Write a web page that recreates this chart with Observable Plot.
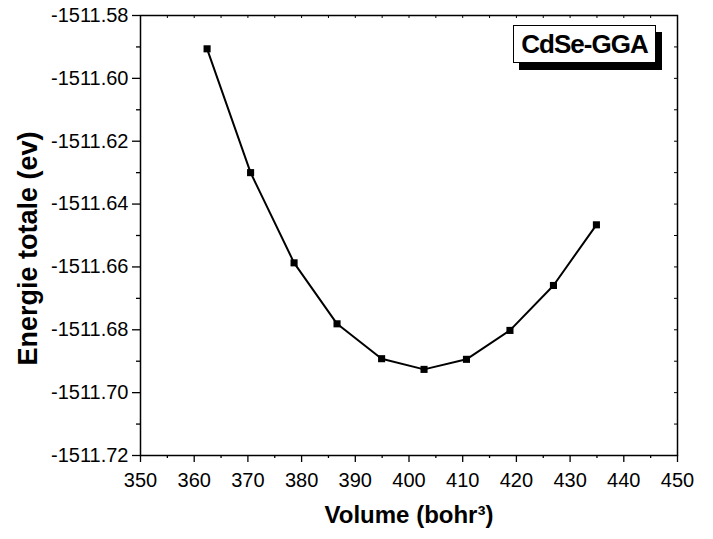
<!DOCTYPE html>
<html>
<head>
<meta charset="utf-8">
<script src="https://cdn.jsdelivr.net/npm/d3@7"></script>
<script src="https://cdn.jsdelivr.net/npm/@observablehq/plot@0.6"></script>
<style>
  body { margin: 0; background: #fff; }
  #wrap { position: relative; width: 713px; height: 539px; }
  #legend {
    position: absolute; left: 513px; top: 25px; width: 141px; height: 36px;
    border: 1px solid #000; background: #fff; box-shadow: 6px 7px 0 #000;
    font-family: "Liberation Sans", Arial, sans-serif; font-weight: bold;
    font-size: 26px; line-height: 37px; text-align: center; letter-spacing: -1px;
  }
</style>
</head>
<body>
<div id="wrap"></div>
<script>
const volume = [362.4, 370.5, 378.6, 386.6, 394.9, 402.8, 410.7, 418.8, 426.9, 434.9];
const energy = [-1511.5906, -1511.6300, -1511.6587, -1511.6781, -1511.6892, -1511.6926, -1511.6894, -1511.6802, -1511.6659, -1511.6466];
const xMajor = [350, 360, 370, 380, 390, 400, 410, 420, 430, 440, 450];
const xMinor = [355, 365, 375, 385, 395, 405, 415, 425, 435, 445];
const yMajor = [-1511.72, -1511.70, -1511.68, -1511.66, -1511.64, -1511.62, -1511.60, -1511.58];
const yMinor = [-1511.71, -1511.69, -1511.67, -1511.65, -1511.63, -1511.61, -1511.59];
const xLabel = "Volume (bohr³)";
const yLabel = "Energie totale (ev)";
const seriesName = "CdSe-GGA";

const data = volume.map((v, i) => ({v, e: energy[i]}));
const W = 713, H = 539, mL = 140, mR = 36, mT = 15, mB = 84;
const pw = W - mL - mR, ph = H - mT - mB;

const chart = Plot.plot({
  width: W, height: H,
  marginLeft: mL, marginRight: mR, marginTop: mT, marginBottom: mB,
  style: {fontFamily: "'Liberation Sans', Arial, sans-serif", fontSize: "20px", color: "#000", background: "#fff"},
  x: {domain: [350, 450]},
  y: {domain: [-1511.72, -1511.58]},
  marks: [
    Plot.axisY({anchor: "left", ticks: yMajor, tickSize: 8, tickPadding: 4, tickFormat: d => d.toFixed(2), label: null, strokeWidth: 1.3}),
    Plot.axisY({anchor: "left", ticks: yMinor, tickSize: 4, tickFormat: () => "", label: null, strokeWidth: 1.3}),
    Plot.axisX({anchor: "bottom", ticks: xMajor, tickSize: 7, tickPadding: 10, tickFormat: d => String(d), label: null, strokeWidth: 1.3}),
    Plot.axisX({anchor: "bottom", ticks: xMinor, tickSize: 3, tickFormat: () => "", label: null, strokeWidth: 1.3}),
    Plot.tickX(xMajor.concat(xMinor), {x: d => d, insetBottom: ph - 3, stroke: "#000", strokeWidth: 1}),
    Plot.tickY(yMajor.concat(yMinor), {y: d => d, insetLeft: pw - 3, stroke: "#000", strokeWidth: 1}),
    Plot.frame({stroke: "#000", strokeWidth: 1.5}),
    Plot.line(data, {x: "v", y: "e", stroke: "#000", strokeWidth: 2}),
    Plot.dot(data, {x: "v", y: "e", symbol: "square", r: 4, fill: "#000", stroke: null}),
    Plot.text([yLabel], {frameAnchor: "left", dx: -112, dy: 13, rotate: -90, textAnchor: "middle", lineAnchor: "middle", fontSize: 27, fontWeight: "bold", text: d => d}),
    Plot.text([xLabel], {frameAnchor: "bottom", dy: 67, textAnchor: "middle", fontSize: 24, fontWeight: "bold", text: d => d})
  ]
});
const wrap = document.getElementById("wrap");
wrap.appendChild(chart);
const lg = document.createElement("div");
lg.id = "legend";
lg.textContent = seriesName;
wrap.appendChild(lg);
</script>
</body>
</html>
